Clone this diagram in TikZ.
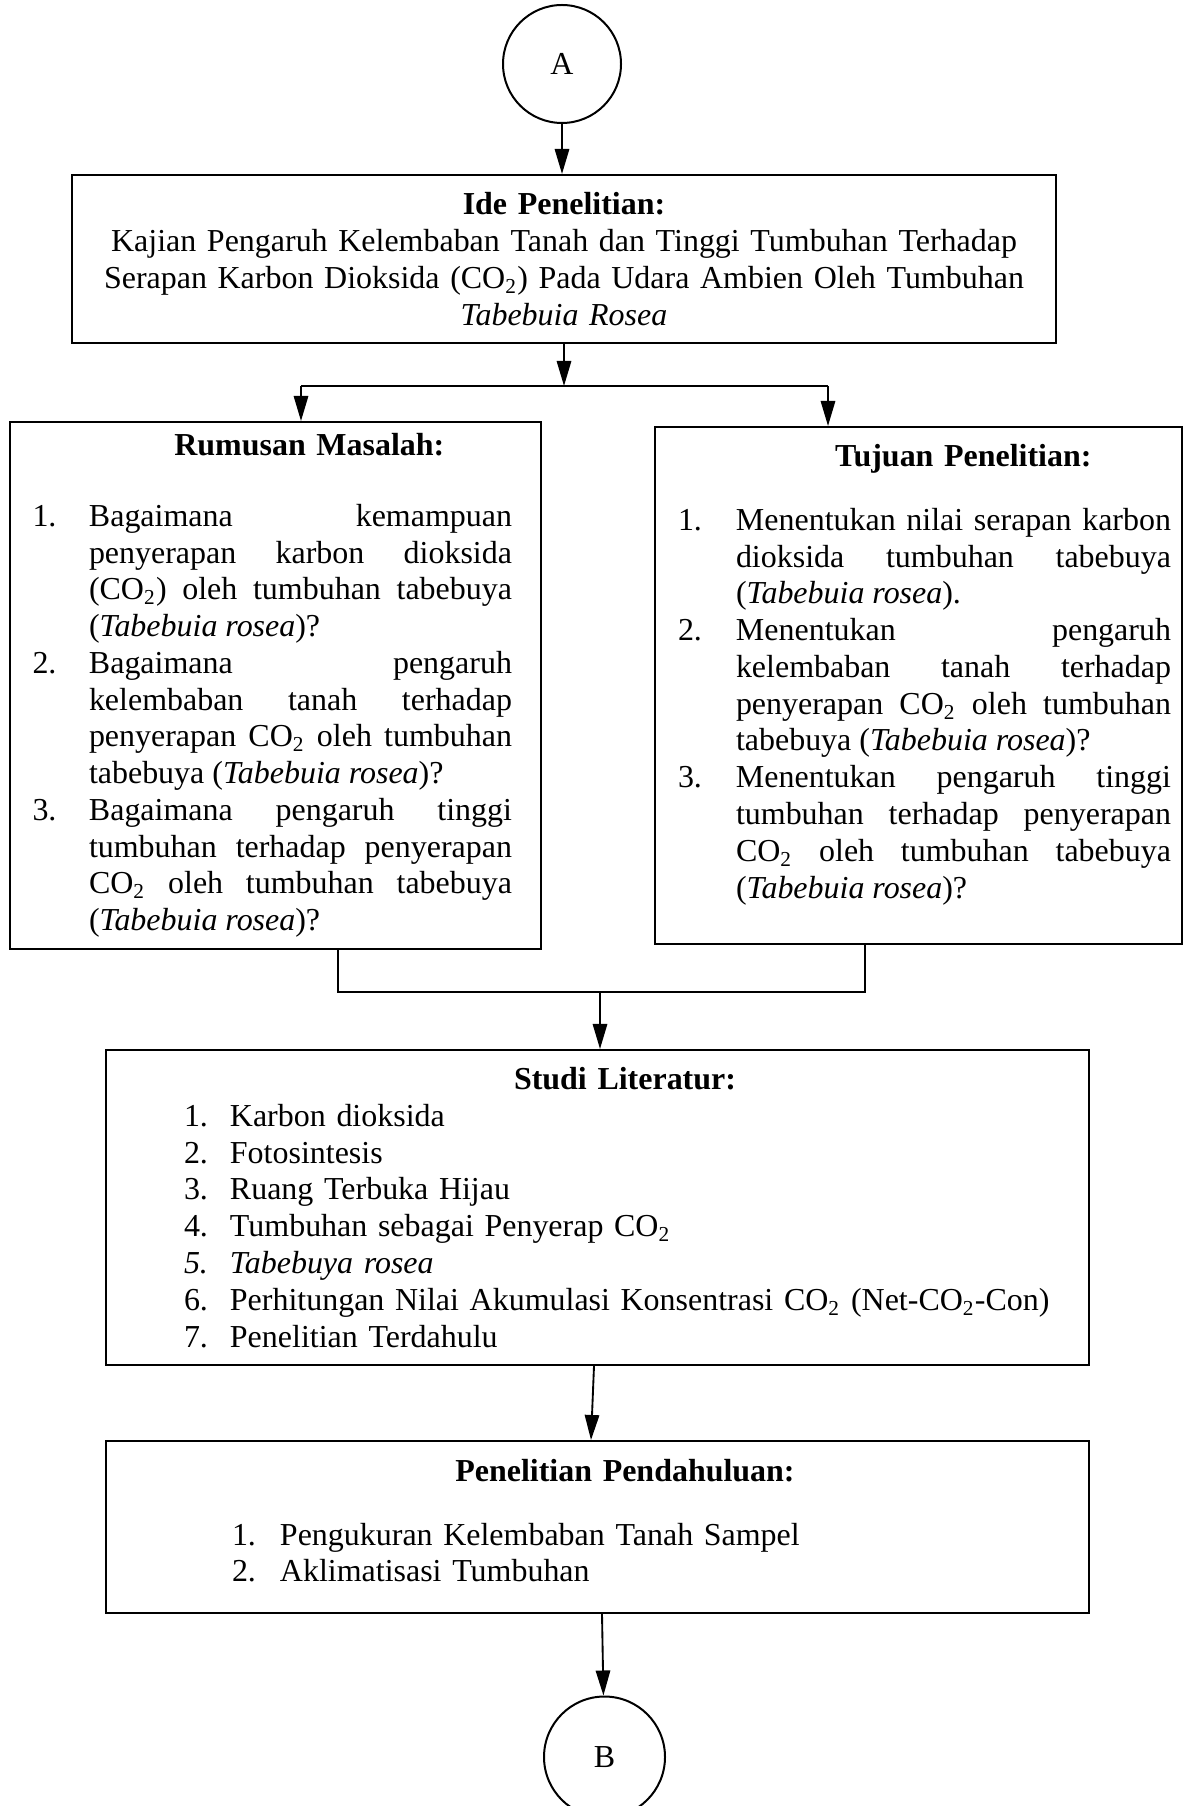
\documentclass[tikz,border=0pt]{standalone}
\usepackage{fontspec}
\setmainfont{Liberation Serif}
\usetikzlibrary{arrows.meta}

\newdimen\px \px=0.3754pt
\newcommand\itm[3]{\par\hangindent=#1\hangafter=1\noindent\makebox[#1][l]{#2}#3}
\newcommand\tailgap[1]{\par\vspace{#1}\hrule height 0pt}
\newcommand\justlist{\spaceskip=0pt \xspaceskip=0pt \tolerance=10000 \hbadness=10000 }
\newcommand\COtwo{CO\textsubscript{2}}

\begin{document}
\begin{tikzpicture}[x=0.3754pt, y=-0.3754pt, >={Triangle[length=9.4pt,width=5.4pt]},
    box/.style={draw, line width=0.75pt, rectangle, inner sep=0pt, font=\fontsize{12pt}{13.8pt}\selectfont},
    conn/.style={draw, circle, line width=0.75pt, inner sep=0pt, minimum size=118\px, font=\fontsize{12pt}{13.8pt}\selectfont},
    link/.style={line width=0.7pt}]
    \useasboundingbox (0,0) rectangle (1183,1806);

    % Nodes
    \node[conn] (A) at (562,64) {A};
    \node[box, minimum width=984\px, minimum height=168\px, text width=984\px, align=center] (ide) at (564,259)
        {\textbf{Ide Penelitian:}\\
         Kajian Pengaruh Kelembaban Tanah dan Tinggi Tumbuhan Terhadap\\
         Serapan Karbon Dioksida (\COtwo) Pada Udara Ambien Oleh Tumbuhan\\
         \textit{Tabebuia Rosea}};
    \node[box, minimum width=531\px, minimum height=527\px, text width=531\px] (rumusan) at (275.5,685.5)
        {\vspace*{6\px}
         {\centering\hspace*{57\px}\textbf{Rumusan Masalah:}\par}
         \vspace{28\px}
         \leftskip=22.5\px \rightskip=29\px \justlist
         \itm{56.5\px}{1.}{Bagaimana kemampuan\linebreak penyerapan karbon dioksida\linebreak (\COtwo) oleh tumbuhan tabebuya\linebreak (\textit{Tabebuia rosea})?}
         \itm{56.5\px}{2.}{Bagaimana pengaruh\linebreak kelembaban tanah terhadap\linebreak penyerapan \COtwo{} oleh tumbuhan\linebreak tabebuya (\textit{Tabebuia rosea})?}
         \itm{56.5\px}{3.}{Bagaimana pengaruh tinggi\linebreak tumbuhan terhadap penyerapan\linebreak \COtwo{} oleh tumbuhan tabebuya\linebreak (\textit{Tabebuia rosea})?}
         \par};
    \node[box, minimum width=526.5\px, minimum height=517\px, text width=526.5\px] (tujuan) at (918.25,685.5)
        {\vspace*{1\px}
         {\centering\hspace*{79.5\px}\textbf{Tujuan Penelitian:}\par}
         \vspace{26.3\px}
         \leftskip=23\px \rightskip=10.5\px \justlist
         \itm{58\px}{1.}{Menentukan nilai serapan karbon\linebreak dioksida tumbuhan tabebuya\linebreak (\textit{Tabebuia rosea}).}
         \itm{58\px}{2.}{Menentukan pengaruh\linebreak kelembaban tanah terhadap\linebreak penyerapan \COtwo{} oleh tumbuhan\linebreak tabebuya (\textit{Tabebuia rosea})?}
         \itm{58\px}{3.}{Menentukan pengaruh tinggi\linebreak tumbuhan terhadap penyerapan\linebreak \COtwo{} oleh tumbuhan tabebuya\linebreak (\textit{Tabebuia rosea})?}
         \tailgap{22\px}};
    \node[box, minimum width=983\px, minimum height=315\px, text width=983\px] (studi) at (597.5,1207.5)
        {{\centering\hspace*{55\px}\textbf{Studi Literatur:}\par}
         \leftskip=78\px \rightskip=0pt plus 1fil
         \itm{46\px}{1.}{Karbon dioksida}
         \itm{46\px}{2.}{Fotosintesis}
         \itm{46\px}{3.}{Ruang Terbuka Hijau}
         \itm{46\px}{4.}{Tumbuhan sebagai Penyerap \COtwo}
         \itm{46\px}{\textit{5.}}{\textit{Tabebuya rosea}}
         \itm{46\px}{6.}{Perhitungan Nilai Akumulasi Konsentrasi \COtwo{} (Net-\COtwo-Con)}
         \itm{46\px}{7.}{Penelitian Terdahulu}
         \par};
    \node[box, minimum width=983\px, minimum height=172\px, text width=983\px] (pendahuluan) at (597.5,1527)
        {{\centering\hspace*{55\px}\textbf{Penelitian Pendahuluan:}\par}
         \vspace{26.3\px}
         \leftskip=126\px \rightskip=0pt plus 1fil
         \itm{48\px}{1.}{Pengukuran Kelembaban Tanah Sampel}
         \itm{48\px}{2.}{Aklimatisasi Tumbuhan}
         \tailgap{12\px}};
    \node[conn, minimum size=121\px] (B) at (604.5,1757) {B};

    % Connections
    \coordinate (splitL) at (301,386);
    \coordinate (splitR) at (828,386);
    \coordinate (joinL) at (338,992);
    \coordinate (joinR) at (865,992);
    \coordinate (join) at (600,992);

    \draw[link,->] (A) -- (A |- ide.north);
    \draw[link,->] (ide.south) -- (ide.south |- splitL);
    \draw[link] (splitL) -- (splitR);
    \draw[link,->] (splitL) -- (splitL |- rumusan.north);
    \draw[link,->] (splitR) -- (splitR |- tujuan.north);
    \draw[link] (joinL |- rumusan.south) -- (joinL) -- (joinR) -- (joinR |- tujuan.south);
    \draw[link,->] (join) -- (join |- studi.north);
    \draw[link,->] ([xshift=-3.5\px]studi.south) -- ([xshift=-6.5\px]pendahuluan.north);
    \draw[link,->] ([xshift=4.5\px]pendahuluan.south) -- (B);
\end{tikzpicture}
\end{document}
